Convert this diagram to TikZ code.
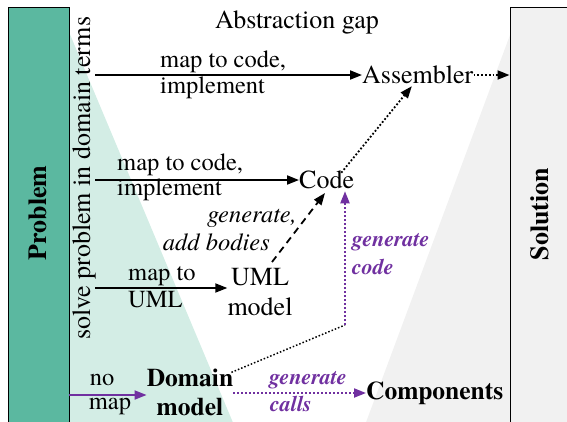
\documentclass[tikz,border=0pt]{standalone}
\usepackage{fontspec}
\setmainfont{texgyretermes}[Extension=.otf, UprightFont=*-regular, BoldFont=*-bold, ItalicFont=*-italic, BoldItalicFont=*-bolditalic]
\usetikzlibrary{arrows.meta}
\definecolor{problemgreen}{HTML}{5BB8A0}
\definecolor{gaptint}{HTML}{D3EDE5}
\definecolor{solutiongray}{HTML}{F1F1F1}
\definecolor{genpurple}{HTML}{7030A0}

\begin{document}
\begin{tikzpicture}[x=1pt, y=-1pt,
  font=\fontsize{26}{30}\selectfont,
  >={Triangle[length=12pt, width=9pt]},
  txt/.style={inner sep=0pt, align=left},
  lbl/.style={txt, font=\fontsize{24.5}{28}\selectfont},
  step arrow/.style={->, line width=1.8pt},
  gen arrow/.style={->, genpurple, dotted, line width=2pt},
  gen label/.style={txt, genpurple, font=\fontsize{22}{26}\selectfont\bfseries\itshape}]
  \useasboundingbox (0,0) rectangle (567,421);

  % Background
  \fill[gaptint] (69,32) -- (234,425) -- (69,425) -- cycle;
  \fill[solutiongray] (510,35) -- (365,425) -- (510,425) -- cycle;
  \node[draw, line width=1pt, fill=problemgreen, minimum width=61pt, minimum height=420pt] (problem) at (38.5,217) {};
  \node[draw, line width=1pt, fill=solutiongray, minimum width=61pt, minimum height=420pt] (solution) at (540.5,217) {};

  % Nodes
  \node[rotate=90, font=\fontsize{26}{30}\selectfont\bfseries] (problemtext) at (38,213) {Problem};
  \node[rotate=90, font=\fontsize{26}{30}\selectfont\bfseries] (solutiontext) at (540,214) {Solution};
  \node[rotate=90] (solve) at (84,178) {solve problem in domain terms};
  \node (title) at (297,22) {Abstraction gap};
  \node[txt, anchor=west] (assembler) at (362,75) {Assembler};
  \node[txt, anchor=west] (code) at (299,180) {Code};
  \node[txt, align=center] (uml) at (260,292) {UML\\model};
  \node[txt, align=center, font=\fontsize{25.5}{29}\selectfont\bfseries] (domain) at (190,392) {Domain\\model};
  \node[txt, anchor=west, font=\fontsize{25.5}{29}\selectfont\bfseries] (components) at (366,393) {Components};

  % Labels
  \node[lbl, anchor=west] (map1) at (160,62) {map to code,};
  \node[lbl, anchor=west] (impl1) at (160,88) {implement};
  \node[lbl, anchor=west] (map2) at (117,165) {map to code,};
  \node[lbl, anchor=west] (impl2) at (117,190) {implement};
  \node[lbl, anchor=west] (map3) at (128,276) {map to};
  \node[lbl, anchor=west] (uml3) at (128,300) {UML};
  \node[lbl] (nomap1) at (102,380) {no};
  \node[lbl] (nomap2) at (110,407) {map};
  \node[lbl, anchor=east, font=\fontsize{24.5}{28}\selectfont\itshape] (gen1) at (297,218) {generate,};
  \node[lbl, anchor=east, font=\fontsize{24.5}{28}\selectfont\itshape] (bodies) at (270,242) {add bodies};
  \node[gen label, anchor=west] (gencode1) at (352,242) {generate};
  \node[gen label, anchor=west] (gencode2) at (352,267) {code};
  \node[gen label] (gencalls1) at (308,380) {generate};
  \node[gen label] (gencalls2) at (291,404) {calls};

  \coordinate (s1) at (95,75);
  \coordinate (s2) at (95,180);
  \coordinate (s3) at (95,288);
  \coordinate (s4) at (69,395);
  \coordinate (umltop) at (272,262);
  \coordinate (codein) at (325,193);
  \coordinate (bend) at (345,325);

  % Edges
  \draw[step arrow] (s1) -- (assembler.west |- s1);
  \draw[step arrow] (s2) -- (code.west |- s2);
  \draw[step arrow] (s3) -- (uml.west |- s3);
  \draw[->, genpurple, line width=1.8pt] (s4) -- (domain.west |- s4);
  \draw[->, line width=1.8pt, dash pattern=on 7pt off 5pt] (umltop) -- (codein);
  \draw[->, dotted, line width=1.8pt] ([xshift=-13pt, yshift=-2pt]code.north east) -- ([xshift=-6pt, yshift=-2pt]assembler.south);
  \draw[->, dotted, line width=1.8pt] (assembler.east) -- (solution.west |- assembler.east);
  \draw[dotted, line width=1.5pt] ([xshift=-2pt, yshift=-4pt]domain.north east) -- (bend);
  \draw[gen arrow] (bend) -- ([yshift=-2pt]bend |- code.south);
  \draw[gen arrow] (domain.east |- components.west) -- (components.west);
\end{tikzpicture}
\end{document}
